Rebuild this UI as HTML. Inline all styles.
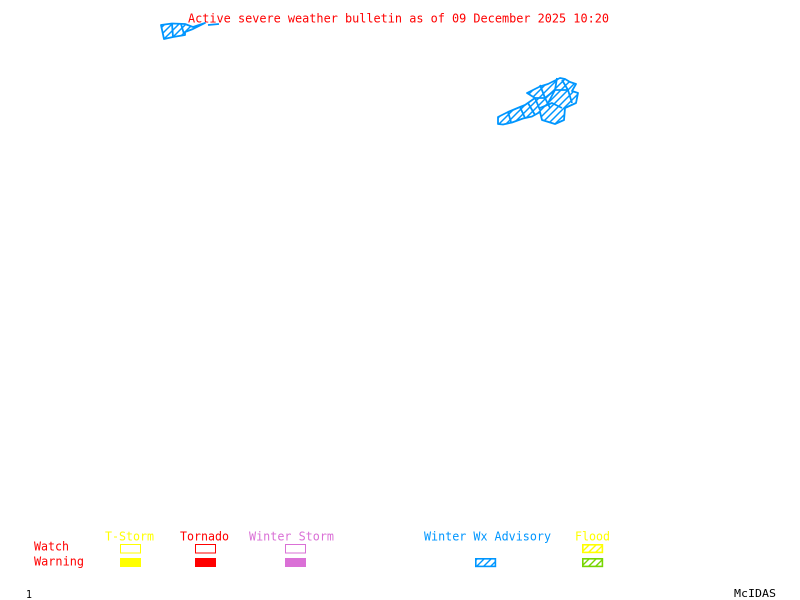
<!DOCTYPE html>
<html>
<head>
<meta charset="utf-8">
<style>
html,body{margin:0;padding:0;background:#fff}
svg{display:block}
text{font-family:"DejaVu Sans Mono","Liberation Mono",monospace;font-size:12.3px}
</style>
</head>
<body>
<svg width="800" height="600" viewBox="0 0 800 600" xmlns="http://www.w3.org/2000/svg">
<defs>
<pattern id="b" width="7" height="7" patternUnits="userSpaceOnUse">
<path d="M-1,8 L8,-1 M-1,1 L1,-1 M6,8 L8,6" stroke="#0096ff" stroke-width="1.5" fill="none"/>
</pattern>
<pattern id="ls" width="7" height="7" patternUnits="userSpaceOnUse">
<path d="M-1,8 L8,-1 M-1,1 L1,-1 M6,8 L8,6" stroke="#0096ff" stroke-width="1.4" fill="none"/>
</pattern>
<pattern id="ly" width="7" height="7" patternUnits="userSpaceOnUse">
<path d="M-1,8 L8,-1 M-1,1 L1,-1 M6,8 L8,6" stroke="#ffff00" stroke-width="1.4" fill="none"/>
</pattern>
<pattern id="lg" width="7" height="7" patternUnits="userSpaceOnUse">
<path d="M-1,8 L8,-1 M-1,1 L1,-1 M6,8 L8,6" stroke="#76d600" stroke-width="1.4" fill="none"/>
</pattern>
</defs>

<text x="188" y="22.5" fill="#ff0000" textLength="421" lengthAdjust="spacingAndGlyphs">Active severe weather bulletin as of 09 December 2025 10:20</text>

<!-- top-left streak -->
<g fill="url(#b)" stroke="#0096ff" stroke-width="1.8" stroke-linejoin="round">
<polygon points="161,25 172,23.5 185,24 193,27 205,23 193,29 185,32 185,35 173,37 164,39"/>
<line x1="172" y1="23.5" x2="173" y2="37"/>
<line x1="181" y1="24" x2="184" y2="34"/>
<line x1="208" y1="25" x2="219" y2="24"/>
</g>

<!-- main cluster -->
<g fill="url(#b)" stroke="#0096ff" stroke-width="1.8" stroke-linejoin="round">
<polygon points="498,117 508,112 520,107 525,105 535,98 527,93 540,86.5 548,84 560,78 565,79 570,82 576,84 572,91 578,93 576,103 565,108 564,120 555,124 542,120 540,112 532,116.5 523,118.5 512,122.5 503,124.5 498,124"/>
<polyline points="508,112 511,122" fill="none"/>
<polyline points="520,107 525,118" fill="none"/>
<polyline points="528,103 535,115" fill="none"/>
<polyline points="535,98 540,110" fill="none"/>
<polyline points="540,85 545,98 550,108" fill="none"/>
<polyline points="540,108 552,103 562,108" fill="none"/>
<polyline points="535,98 545,98 555,90 568,90 572,103" fill="none"/>
<polyline points="555,90 557,78" fill="none"/>
<polyline points="568,90 562,80" fill="none"/>
<polyline points="555,90 548,103" fill="none"/>
</g>

<!-- legend -->
<text x="105" y="540.5" fill="#ffff00" textLength="49" lengthAdjust="spacingAndGlyphs">T-Storm</text>
<text x="180" y="540.5" fill="#ff0000" textLength="49" lengthAdjust="spacingAndGlyphs">Tornado</text>
<text x="249" y="540.5" fill="#da70d6" textLength="85" lengthAdjust="spacingAndGlyphs">Winter Storm</text>
<text x="424" y="540.5" fill="#0096ff" textLength="127" lengthAdjust="spacingAndGlyphs">Winter Wx Advisory</text>
<text x="575" y="540.5" fill="#ffff00" textLength="35" lengthAdjust="spacingAndGlyphs">Flood</text>
<text x="34" y="550.5" fill="#ff0000" textLength="35" lengthAdjust="spacingAndGlyphs">Watch</text>
<text x="34" y="565.5" fill="#ff0000" textLength="50" lengthAdjust="spacingAndGlyphs">Warning</text>

<g shape-rendering="crispEdges" stroke-width="1">
<rect x="120.5" y="544.5" width="20" height="8.5" fill="none" stroke="#ffff00"/>
<rect x="195.5" y="544.5" width="20" height="8.5" fill="none" stroke="#ff0000"/>
<rect x="285.5" y="544.5" width="20" height="8.5" fill="none" stroke="#da70d6"/>
<rect x="120" y="558" width="21" height="9" fill="#ffff00"/>
<rect x="195" y="558" width="21" height="9" fill="#ff0000"/>
<rect x="285" y="558" width="21" height="9" fill="#da70d6"/>
</g>
<g stroke-width="1.6">
<rect x="582.8" y="544.8" width="19.6" height="7.6" fill="url(#ly)" stroke="#ffff00"/>
<rect x="475.8" y="558.8" width="19.6" height="7.6" fill="url(#ls)" stroke="#0096ff"/>
<rect x="582.8" y="558.8" width="19.6" height="7.6" fill="url(#lg)" stroke="#76d600"/>
</g>

<text x="26" y="598" fill="#000000" style="font-size:10.5px" textLength="6" lengthAdjust="spacingAndGlyphs">1</text>
<text x="734" y="597" fill="#000000" style="font-size:10.5px" textLength="42" lengthAdjust="spacingAndGlyphs">McIDAS</text>
</svg>
</body>
</html>
